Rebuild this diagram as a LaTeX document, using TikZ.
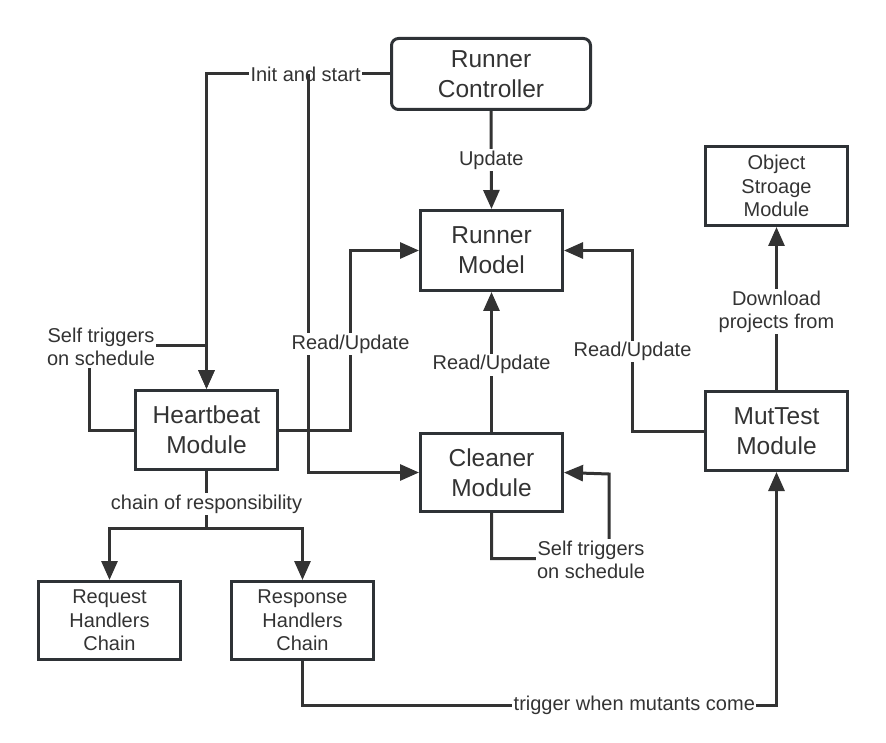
\documentclass[tikz,border=0pt]{standalone}
\usepackage{fontspec}
\setmainfont{Liberation Sans}
\usetikzlibrary{arrows.meta}
\definecolor{boxc}{HTML}{2E3236}
\definecolor{linec}{HTML}{333333}
\definecolor{txt}{HTML}{333333}
\tikzset{
  box/.style={draw=boxc, line width=3pt, align=center, text=txt, inner sep=0pt,
    minimum width=142pt, minimum height=79pt},
  big/.style={font=\fontsize{24.5}{30}\selectfont},
  small/.style={font=\fontsize{20}{23.5}\selectfont},
  conn/.style={draw=linec, line width=3pt, -{Triangle[length=19pt,width=16pt]}},
  lbl/.style={fill=white, inner sep=1.5pt, text=txt, align=center, font=\fontsize{20}{23.5}\selectfont}
}
\begin{document}
\begin{tikzpicture}[x=1pt,y=-1pt]
\useasboundingbox (0,0) rectangle (886,743);
% nodes
\node[box, big, rounded corners=7pt, minimum width=199pt, minimum height=71pt] (rc) at (491,74) {Runner\\Controller};
\node[box, big, minimum height=80pt] (rm) at (491.5,250.5) {Runner\\Model};
\node[box, small] (os) at (776.5,186) {Object\\Stroage\\Module};
\node[box, big] (mt) at (776.5,431) {MutTest\\Module};
\node[box, big] (hb) at (206.5,430) {Heartbeat\\Module};
\node[box, big, minimum height=78pt] (cl) at (491.5,472.5) {Cleaner\\Module};
\node[box, small, minimum height=78pt] (rq) at (109.5,620.5) {Request\\Handlers\\Chain};
\node[box, small, minimum height=78pt] (rs) at (302.5,620.5) {Response\\Handlers\\Chain};
\coordinate (split) at (308,74);

% controller -> model
\draw[conn] (rc.south) -- node[lbl]{Update} (rm.north);
% init and start -> heartbeat
\draw[conn] (rc.west) -| node[lbl,pos=0.23]{Init and start} (hb.north);
% init -> cleaner
\draw[conn] (split) |- (cl.west);
% heartbeat self trigger
\draw[conn] (hb.west) -- ++(-44.5,0) -- ++(0,-85) -| (hb.north);
\node[lbl] at (101,347) {Self triggers\\on schedule};
% heartbeat -> model
\draw[conn] (hb.east) -- ++(71.5,0) |- node[lbl,pos=0.24]{Read/Update} (rm.west);
% cleaner -> model
\draw[conn] (cl.north) -- node[lbl,pos=0.48]{Read/Update} (rm.south);
% muttest -> model
\draw[conn] (mt.west) -- ++(-71.5,0) |- node[lbl,pos=0.22]{Read/Update} (rm.east);
% muttest -> object storage
\draw[conn] (mt.north) -- node[lbl,pos=0.48]{Download\\projects from} (os.south);
% cleaner self trigger
\draw[conn] (cl.south) -- ++(0,45.5) -- ++(117.5,0) -- ++(0,-84.5) -- (cl.east);
\node[lbl] at (591,560) {Self triggers\\on schedule};
% chain of responsibility
\draw[conn] (hb.south) -- ++(0,57.5) -| (rs.north);
\draw[conn] (hb.south) -- ++(0,57.5) -| (rq.north);
\node[lbl] at (206.5,504) {chain of responsibility};
% response -> muttest
\draw[conn] (rs.south) -- ++(0,44.5) -| node[lbl,pos=0.35]{trigger when mutants come} (mt.south);
\end{tikzpicture}
\end{document}
